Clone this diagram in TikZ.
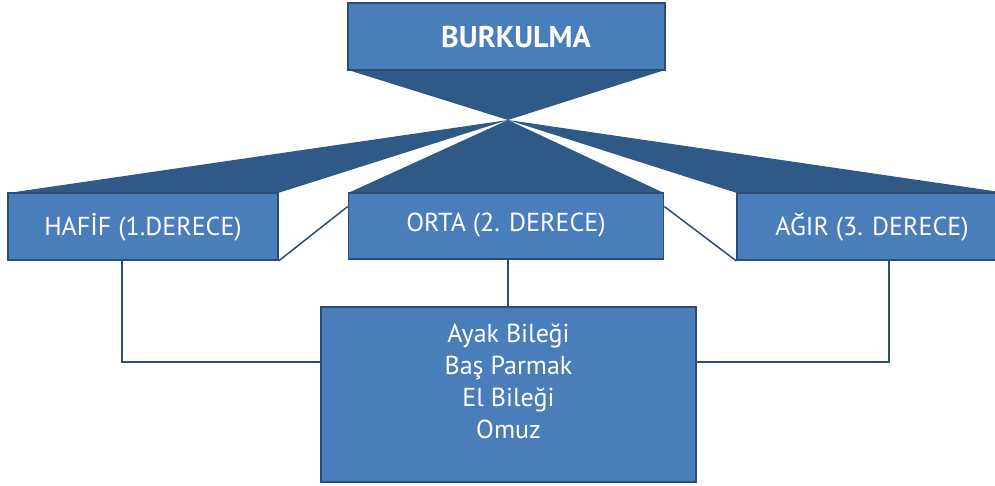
\documentclass[tikz,border=0pt]{standalone}
\usepackage{fontspec}
\setmainfont{PT Sans}
\definecolor{boxfill}{HTML}{4A7EBA}
\definecolor{fanfill}{HTML}{2F5986}
\definecolor{boxline}{HTML}{2B4D74}
\begin{document}
\begin{tikzpicture}[x=1pt,y=-1pt,
  blue box/.style={draw=boxline, line width=1.6pt, fill=boxfill, text=white, inner sep=0pt,
    font=\fontsize{26}{30}\selectfont, text height=18.5pt, text depth=0pt},
  fan/.style={fill=fanfill},
  conn/.style={draw=boxline, line width=1.5pt}]
\useasboundingbox (0,0) rectangle (995,485);
% fans
\coordinate (apex) at (508,120);
\path[fan] (348,70) -- (665,70) -- (apex) -- cycle;
\path[fan] (8,193) -- (apex) -- (278,193) -- cycle;
\path[fan] (348,193) -- (apex) -- (664,193) -- cycle;
\path[fan] (737,193) -- (apex) -- (1007,193) -- cycle;
% boxes
\node[blue box, minimum width=317pt, minimum height=67pt, font=\fontsize{30}{34}\selectfont\bfseries, text height=21pt] (top) at (506.5,36.5) {\hspace*{19pt}BURKULMA};
\node[blue box, minimum width=270pt, minimum height=67pt] (left) at (143,226.5) {HAFİF (1.DERECE)};
\node[blue box, minimum width=315pt, minimum height=66pt, text depth=8pt] (mid) at (506,226) {ORTA (2. DERECE)};
\node[blue box, minimum width=270pt, minimum height=67pt] (right) at (872,226.5) {AĞIR (3. DERECE)};
\node[blue box, minimum width=375pt, minimum height=175pt] (bot) at (508.5,394.5) {};
\node[text=white, align=center, font=\fontsize{26}{32}\selectfont, anchor=base] (bottxt) at (508.5,438) {Ayak Bileği\\Baş Parmak\\El Bileği\\Omuz};
% connectors
\draw[conn] (left.south east) -- ([yshift=19.5pt]mid.west);
\draw[conn] ([yshift=19.5pt]mid.east) -- (right.south west);
\draw[conn] ([xshift=2pt]mid.south) -- ([xshift=2pt]mid.south |- bot.north);
\draw[conn] ([xshift=-21pt]left.south) |- ([yshift=32.5pt]bot.west);
\draw[conn] ([xshift=17pt]right.south) |- ([yshift=32.5pt]bot.east);
\end{tikzpicture}
\end{document}
